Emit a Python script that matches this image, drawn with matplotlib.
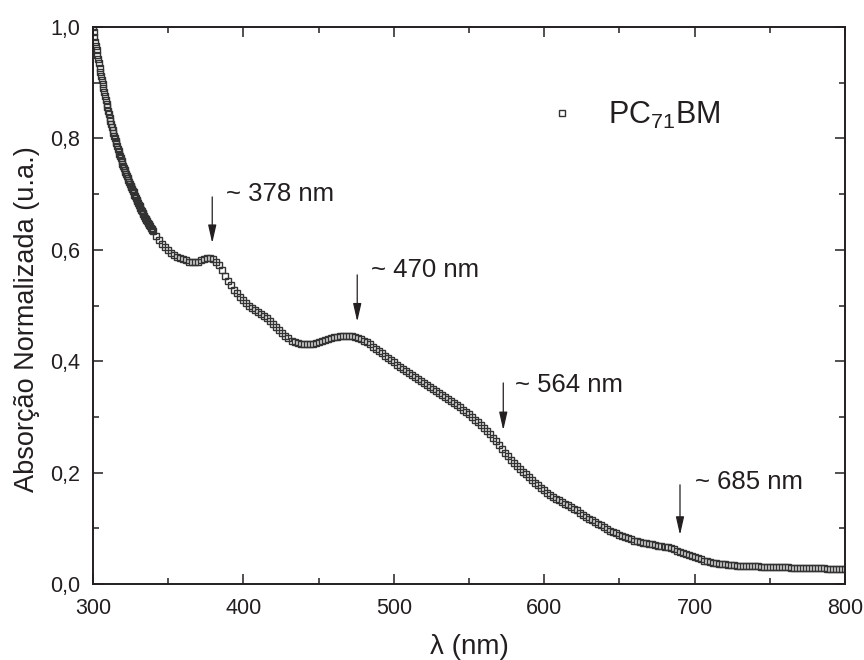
import numpy as np
import matplotlib
matplotlib.use("Agg")
import matplotlib.pyplot as plt
from matplotlib.ticker import MultipleLocator, FuncFormatter

plt.rcParams["font.family"] = ["Liberation Sans", "DejaVu Sans"]
plt.rcParams["mathtext.default"] = "regular"

# steep start of the spectrum, read every 0.5 nm from 300 to 339.5 nm
absorb_uv = [
    1.000, 0.991, 0.983, 0.974, 0.966, 0.958, 0.950, 0.943, 0.935, 0.927,  # 300-304.5
    0.920, 0.912, 0.905, 0.898, 0.890, 0.883, 0.876, 0.869, 0.862, 0.856,  # 305-309.5
    0.849, 0.843, 0.837, 0.832, 0.826, 0.821, 0.815, 0.810, 0.805, 0.800,  # 310-314.5
    0.795, 0.791, 0.786, 0.781, 0.777, 0.772, 0.768, 0.764, 0.759, 0.755,  # 315-319.5
    0.751, 0.747, 0.743, 0.740, 0.736, 0.732, 0.729, 0.725, 0.722, 0.719,  # 320-324.5
    0.715, 0.712, 0.709, 0.706, 0.703, 0.699, 0.696, 0.693, 0.690, 0.687,  # 325-329.5
    0.684, 0.681, 0.678, 0.675, 0.672, 0.669, 0.666, 0.664, 0.661, 0.658,  # 330-334.5
    0.656, 0.653, 0.651, 0.649, 0.646, 0.644, 0.642, 0.640, 0.637, 0.635,  # 335-339.5
]

# rest of the spectrum, read every 2 nm from 340 nm
absorb_vis = [
    0.633, 0.625, 0.618, 0.611, 0.605, 0.599, 0.594, 0.590, 0.587, 0.585,  # 340-358
    0.583, 0.581, 0.579, 0.578, 0.578, 0.579, 0.581, 0.583, 0.585, 0.586,  # 360-378
    0.584, 0.579, 0.572, 0.563, 0.553, 0.544, 0.536, 0.528, 0.522, 0.516,  # 380-398
    0.510, 0.505, 0.500, 0.496, 0.492, 0.488, 0.485, 0.482, 0.478, 0.473,  # 400-418
    0.467, 0.461, 0.456, 0.450, 0.445, 0.441, 0.437, 0.434, 0.432, 0.431,  # 420-438
    0.430, 0.430, 0.430, 0.431, 0.432, 0.434, 0.436, 0.438, 0.440, 0.442,  # 440-458
    0.443, 0.444, 0.445, 0.445, 0.446, 0.446, 0.445, 0.444, 0.442, 0.440,  # 460-478
    0.437, 0.434, 0.430, 0.426, 0.422, 0.418, 0.414, 0.410, 0.406, 0.402,  # 480-498
    0.398, 0.394, 0.390, 0.386, 0.382, 0.379, 0.376, 0.372, 0.368, 0.365,  # 500-518
    0.361, 0.357, 0.354, 0.350, 0.346, 0.343, 0.339, 0.336, 0.332, 0.329,  # 520-538
    0.325, 0.321, 0.317, 0.313, 0.309, 0.305, 0.300, 0.295, 0.290, 0.285,  # 540-558
    0.280, 0.275, 0.269, 0.263, 0.257, 0.250, 0.243, 0.236, 0.230, 0.223,  # 560-578
    0.217, 0.211, 0.206, 0.201, 0.197, 0.192, 0.187, 0.182, 0.177, 0.172,  # 580-598
    0.168, 0.164, 0.160, 0.156, 0.153, 0.150, 0.147, 0.144, 0.141, 0.138,  # 600-618
    0.135, 0.132, 0.128, 0.124, 0.120, 0.117, 0.114, 0.111, 0.108, 0.105,  # 620-638
    0.102, 0.099, 0.096, 0.093, 0.091, 0.088, 0.086, 0.084, 0.082, 0.080,  # 640-658
    0.078, 0.077, 0.075, 0.074, 0.073, 0.072, 0.071, 0.070, 0.069, 0.068,  # 660-678
    0.067, 0.066, 0.064, 0.062, 0.060, 0.058, 0.056, 0.054, 0.052, 0.050,  # 680-698
    0.048, 0.046, 0.044, 0.042, 0.041, 0.039, 0.038, 0.037, 0.036, 0.035,  # 700-718
    0.035, 0.034, 0.034, 0.034, 0.033, 0.033, 0.033, 0.033, 0.032, 0.032,  # 720-738
    0.032, 0.032, 0.031, 0.031, 0.031, 0.031, 0.031, 0.030, 0.030, 0.030,  # 740-758
    0.030, 0.030, 0.029, 0.029, 0.029, 0.029, 0.029, 0.029, 0.028, 0.028,  # 760-778
    0.028, 0.028, 0.028, 0.028, 0.027, 0.027, 0.027, 0.027, 0.027, 0.027,  # 780-798
    0.027,                                                                 # 800
]
wl_uv = np.arange(300, 300 + 0.5 * len(absorb_uv), 0.5)
wl_vis = np.arange(340, 340 + 2 * len(absorb_vis), 2)
wavelength = np.concatenate([wl_uv, wl_vis])
absorb = np.array(absorb_uv + absorb_vis)

# arrows: peak label, arrow x, arrow top, arrow tip, text x, text y
peak_labels = ["~ 378 nm", "~ 470 nm", "~ 564 nm", "~ 685 nm"]
arrow_x = [379.3, 475.7, 572.8, 690.3]
arrow_top = [0.695, 0.555, 0.361, 0.178]
arrow_tip = [0.612, 0.471, 0.276, 0.088]
label_x = [388.5, 485.0, 580.5, 700.5]
label_y = [0.700, 0.564, 0.357, 0.183]

ink = "#231f20"

fig = plt.figure(figsize=(8.64, 6.6), dpi=100)
ax = fig.add_axes([0.1076, 0.1152, 0.8704, 0.8438])

ax.plot(wavelength, absorb, ls="none", marker="s", ms=4.9, mew=1.0,
        mec="#333333", mfc="none", label="PC$_{71}$BM")

for lab, xa, yt, yb, xt, yl in zip(peak_labels, arrow_x, arrow_top, arrow_tip, label_x, label_y):
    ax.annotate("", xy=(xa, yb), xytext=(xa, yt),
                arrowprops=dict(arrowstyle="-|>,head_length=1.1,head_width=0.25",
                                color=ink, lw=0.9, shrinkA=0, shrinkB=0))
    ax.text(xt, yl, lab, fontsize=18.5, color=ink, va="center", ha="left")

ax.set_xlim(300, 800)
ax.set_ylim(0, 1.0)
ax.xaxis.set_major_locator(MultipleLocator(100))
ax.xaxis.set_minor_locator(MultipleLocator(50))
ax.yaxis.set_major_locator(MultipleLocator(0.2))
ax.yaxis.set_minor_locator(MultipleLocator(0.1))
ax.yaxis.set_major_formatter(FuncFormatter(lambda v, p: f"{v:.1f}".replace(".", ",")))

ax.tick_params(which="both", direction="in", top=True, right=True,
               width=1.1, color=ink, labelcolor=ink, labelsize=15.5)
ax.tick_params(axis="x", which="major", pad=10)
ax.tick_params(axis="y", which="major", pad=9)
ax.tick_params(which="major", length=7.5)
ax.tick_params(which="minor", length=4.3)
for s in ax.spines.values():
    s.set_linewidth(1.4)
    s.set_color(ink)

ax.set_xlabel("λ (nm)", fontsize=20, color=ink, labelpad=11)
ax.set_ylabel("Absorção Normalizada (u.a.)", fontsize=19.5, color=ink)
ax.yaxis.set_label_coords(-0.0705, 0.476)

ax.legend(loc="center left", bbox_to_anchor=(0.567, 0.842), frameon=False,
          fontsize=22, numpoints=1, handlelength=1.0, handletextpad=1.0,
          labelcolor=ink, markerscale=0.9)

fig.savefig("out.png", dpi=100)
